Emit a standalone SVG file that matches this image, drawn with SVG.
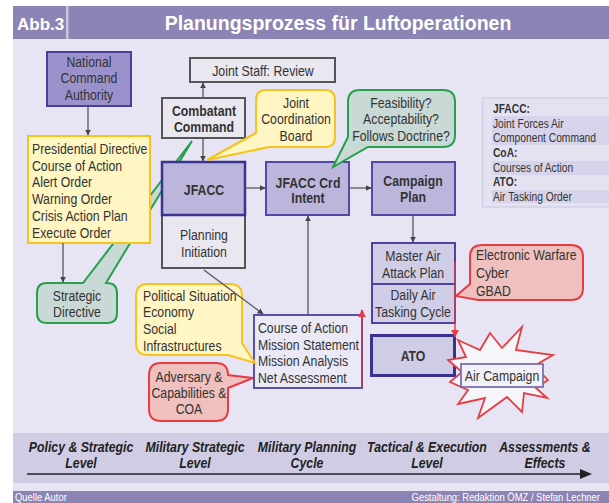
<svg xmlns="http://www.w3.org/2000/svg" width="609" height="503" viewBox="0 0 609 503">
<defs>
<marker id="ah" viewBox="0 0 10 10" refX="9" refY="5" markerWidth="6" markerHeight="6" orient="auto" markerUnits="userSpaceOnUse"><path d="M0,0 L10,5 L0,10 Z" fill="#444"/></marker>
<marker id="ahr" viewBox="0 0 10 10" refX="9" refY="5" markerWidth="8" markerHeight="8" orient="auto" markerUnits="userSpaceOnUse"><path d="M0,0 L10,5 L0,10 Z" fill="#e63d45"/></marker>
<style>
.n{font-family:"Liberation Sans",Arial,sans-serif;font-size:15px;fill:#333;transform:scale(0.82,1)}
.b{font-weight:bold}
.c{text-anchor:middle}
.lg{font-size:12.5px}
.lv{font-size:15px;font-weight:bold;font-style:italic;fill:#222;text-anchor:middle}
.ft{font-size:11.5px;fill:#fff}
.gray{fill:#e9e7ef;stroke:#555;stroke-width:2}
.pur{fill:#bdb6dc;stroke:#5248a6;stroke-width:2}
.yel{fill:#fff6c4;stroke:#f6c31c;stroke-width:2}
.grn{fill:#c9d9d6;stroke:#26a04b;stroke-width:2}
.red{fill:#efc0bd;stroke:#e63d45;stroke-width:2}
.con{fill:none;stroke:#555;stroke-width:1.3}
</style>
</defs>
<rect x="0" y="0" width="609" height="503" fill="#ffffff"/>
<rect x="13" y="6" width="596" height="497" fill="#e7e5f3"/>
<g id="title">
<rect x="13" y="6" width="596" height="33" fill="#8c84b4"/>
<rect x="66" y="6" width="2.5" height="33" fill="#c9c5dd"/>
<text x="17" y="30" style="font-family:'Liberation Sans',sans-serif;font-size:17px;font-weight:bold;fill:#fff">Abb.3</text>
<text x="338" y="30" text-anchor="middle" style="font-family:'Liberation Sans',sans-serif;font-size:19.5px;font-weight:bold;fill:#fff">Planungsprozess für Luftoperationen</text>
</g>
<g id="strategic-directive">
<path class="grn" d="M47,283 H83 L192,141 L106,283 H107 Q117,283 117,293 V313 Q117,323 107,323 H47 Q37,323 37,313 V293 Q37,283 47,283 Z"/>
<text class="n c" x="93.9" y="301">Strategic</text>
<text class="n c" x="93.9" y="317">Directive</text>
</g>
<g id="nca">
<rect x="47" y="52" width="84" height="54" fill="#9c92cb" stroke="#4b3e9b" stroke-width="2"/>
<text class="n c" x="108.5" y="67">National</text>
<text class="n c" x="108.5" y="83">Command</text>
<text class="n c" x="108.5" y="100">Authority</text>
</g>
<g id="directives">
<rect class="yel" x="28" y="136" width="122" height="107"/>
<text class="n" x="39" y="154">Presidential Directive</text>
<text class="n" x="39" y="171">Course of Action</text>
<text class="n" x="39" y="187">Alert Order</text>
<text class="n" x="39" y="204">Warning Order</text>
<text class="n" x="39" y="221">Crisis Action Plan</text>
<text class="n" x="39" y="238">Execute Order</text>
</g>
<g id="joint-staff">
<rect class="gray" x="190" y="58" width="145" height="24"/>
<text class="n c" x="320.7" y="76">Joint Staff: Review</text>
</g>
<g id="combatant">
<rect class="gray" x="162" y="98" width="83" height="40"/>
<text class="n b c" x="248.8" y="116">Combatant</text>
<text class="n b c" x="248.8" y="132">Command</text>
</g>
<g id="jfacc">
<rect class="gray" x="162" y="215" width="83" height="53"/>
<text class="n c" x="248.8" y="240">Planning</text>
<text class="n c" x="248.8" y="257">Initiation</text>
<rect x="162" y="162" width="83" height="53" fill="#bdb6dc" stroke="#3a3390" stroke-width="2.5"/>
<text class="n b c" x="248.8" y="195">JFACC</text>
</g>
<g id="jcb">
<path class="yel" d="M266,90 H325 Q335,90 335,100 V137 Q335,147 325,147 H269 L207,160 L256,133 V100 Q256,90 266,90 Z"/>
<text class="n c" x="361" y="108">Joint</text>
<text class="n c" x="361" y="124">Coordination</text>
<text class="n c" x="361" y="141">Board</text>
</g>
<g id="crd-intent">
<rect class="pur" x="266" y="162" width="83" height="53"/>
<text class="n b c" x="375.6" y="188">JFACC Crd</text>
<text class="n b c" x="375.6" y="203">Intent</text>
</g>
<g id="feasibility">
<path class="grn" d="M360,90 H443 Q455,90 455,102 V135 Q455,147 443,147 H368 L333,167 L348,137 V102 Q348,90 360,90 Z"/>
<text class="n c" x="489" y="108">Feasibility?</text>
<text class="n c" x="489" y="124">Acceptability?</text>
<text class="n c" x="489" y="141">Follows Doctrine?</text>
</g>
<g id="campaign-plan">
<rect class="pur" x="372" y="162" width="83" height="53"/>
<text class="n b c" x="503.7" y="186">Campaign</text>
<text class="n b c" x="503.7" y="202">Plan</text>
</g>
<g id="legend">
<rect x="482.5" y="98" width="130" height="109" fill="#e4e2f1" stroke="#d2d0e4" stroke-width="1.5"/>
<rect x="492" y="116" width="117" height="29" fill="#d6d4ea"/>
<rect x="492" y="161" width="117" height="14" fill="#d6d4ea"/>
<rect x="492" y="190" width="117" height="13" fill="#d6d4ea"/>
<text class="n lg b" x="601.2" y="113.5">JFACC:</text>
<text class="n lg" x="601.2" y="128">Joint Forces Air</text>
<text class="n lg" x="601.2" y="142">Component Command</text>
<text class="n lg b" x="601.2" y="157.5">CoA:</text>
<text class="n lg" x="601.2" y="172">Courses of Action</text>
<text class="n lg b" x="601.2" y="186.5">ATO:</text>
<text class="n lg" x="601.2" y="201">Air Tasking Order</text>
</g>
<g id="maap">
<rect x="372" y="243" width="83" height="41" fill="#d0cde6" stroke="#4d44a0" stroke-width="2"/>
<text class="n c" x="503.7" y="261">Master Air</text>
<text class="n c" x="503.7" y="278">Attack Plan</text>
</g>
<g id="daily">
<rect x="372" y="284" width="83" height="39" fill="#d0cde6" stroke="#4d44a0" stroke-width="2"/>
<text class="n c" x="503.7" y="300">Daily Air</text>
<text class="n c" x="503.7" y="317">Tasking Cycle</text>
</g>
<g id="ew">
<path class="red" d="M482,245 H571 Q583,245 583,257 V288 Q583,300 571,300 H478 L456,296 L470,284 V257 Q470,245 482,245 Z"/>
<text class="n" x="580.5" y="260">Electronic Warfare</text>
<text class="n" x="580.5" y="278">Cyber</text>
<text class="n" x="580.5" y="296">GBAD</text>
</g>
<g id="ato">
<rect x="371.5" y="335.5" width="83" height="40" fill="#cfcce6" stroke="#3a3290" stroke-width="3"/>
<text class="n b c" x="503.7" y="361">ATO</text>
</g>
<g id="air-campaign">
<polygon points="522,327 516,350 553,355 534,366 548,380 536,388 547,398 524,393 522,412 507,397 478,418 485,398 458,404 468,390 450,382 462,372 448,360 466,357 458,340 480,350 490,333 502,348" fill="#f6f5f9" stroke="#e63d45" stroke-width="1.8" stroke-linejoin="miter"/>
<rect x="461" y="364" width="82" height="23" fill="#f2f1f7" stroke="#7a70b0" stroke-width="1.8"/>
<text class="n c" x="612.2" y="381">Air Campaign</text>
</g>
<g id="course">
<rect x="254" y="315" width="108" height="73" fill="#ebe9f6" stroke="#5b50a8" stroke-width="2"/>
<text class="n" x="314.6" y="333">Course of Action</text>
<text class="n" x="314.6" y="350">Mission Statement</text>
<text class="n" x="314.6" y="366">Mission Analysis</text>
<text class="n" x="314.6" y="383">Net Assessment</text>
</g>
<g id="political">
<path class="yel" d="M148,284 H230 Q242,284 242,296 V343 L255,363 L228,355 H148 Q136,355 136,343 V296 Q136,284 148,284 Z"/>
<text class="n" x="174.4" y="301">Political Situation</text>
<text class="n" x="174.4" y="317">Economy</text>
<text class="n" x="174.4" y="334">Social</text>
<text class="n" x="174.4" y="351">Infrastructures</text>
</g>
<g id="adversary">
<path class="red" d="M161,363 H216 Q228,363 228,375 L253,378 L228,388 V409 Q228,421 216,421 H161 Q149,421 149,409 V375 Q149,363 161,363 Z"/>
<text class="n c" x="230.5" y="382">Adversary &amp;</text>
<text class="n c" x="230.5" y="398">Capabilities &amp;</text>
<text class="n c" x="230.5" y="414">COA</text>
</g>
<g id="connectors">
<path class="con" d="M88,106 V135" marker-end="url(#ah)"/>
<path class="con" d="M63,243 V282" marker-end="url(#ah)"/>
<path class="con" d="M203,98 V83" marker-end="url(#ah)"/>
<path class="con" d="M203,138 V161" marker-end="url(#ah)"/>
<path class="con" d="M245,188 H265" marker-end="url(#ah)"/>
<path class="con" d="M349,188 H371" marker-end="url(#ah)"/>
<path class="con" d="M413,215 V242" marker-end="url(#ah)"/>
<path class="con" d="M308,315 V216" marker-end="url(#ah)"/>
<path class="con" d="M204,270 L263,314" marker-end="url(#ah)"/>
<path d="M455,262 V323" fill="none" stroke="#a8406a" stroke-width="2"/>
<path d="M455,323 V337" fill="none" stroke="#e63d45" stroke-width="1.5" marker-end="url(#ahr)"/>
<path d="M362,388 V310" fill="none" stroke="#a8406a" stroke-width="2" marker-end="url(#ahr)"/>
</g>
<g id="levels">
<rect x="13" y="433" width="596" height="50" fill="#cfcce3"/>
<text class="n lv" x="98.8" y="452">Policy &amp; Strategic</text>
<text class="n lv" x="98.8" y="468">Level</text>
<text class="n lv" x="237.8" y="452">Military Strategic</text>
<text class="n lv" x="237.8" y="468">Level</text>
<text class="n lv" x="374.4" y="452">Military Planning</text>
<text class="n lv" x="374.4" y="468">Cycle</text>
<text class="n lv" x="520.7" y="452">Tactical &amp; Execution</text>
<text class="n lv" x="520.7" y="468">Level</text>
<text class="n lv" x="664.6" y="452">Assessments &amp;</text>
<text class="n lv" x="664.6" y="468">Effects</text>
<path d="M27,474 H583" stroke="#222" stroke-width="1.5"/>
<path d="M580,469 L592,474 L580,479 Z" fill="#222"/>
</g>
<g id="footer">
<rect x="13" y="491" width="596" height="12" fill="#8c84b4"/>
<text class="n ft" x="18.3" y="501.5">Quelle Autor</text>
<text class="n ft" x="731.7" y="501.5" text-anchor="end">Gestaltung: Redaktion ÖMZ / Stefan Lechner</text>
</g>
</svg>
